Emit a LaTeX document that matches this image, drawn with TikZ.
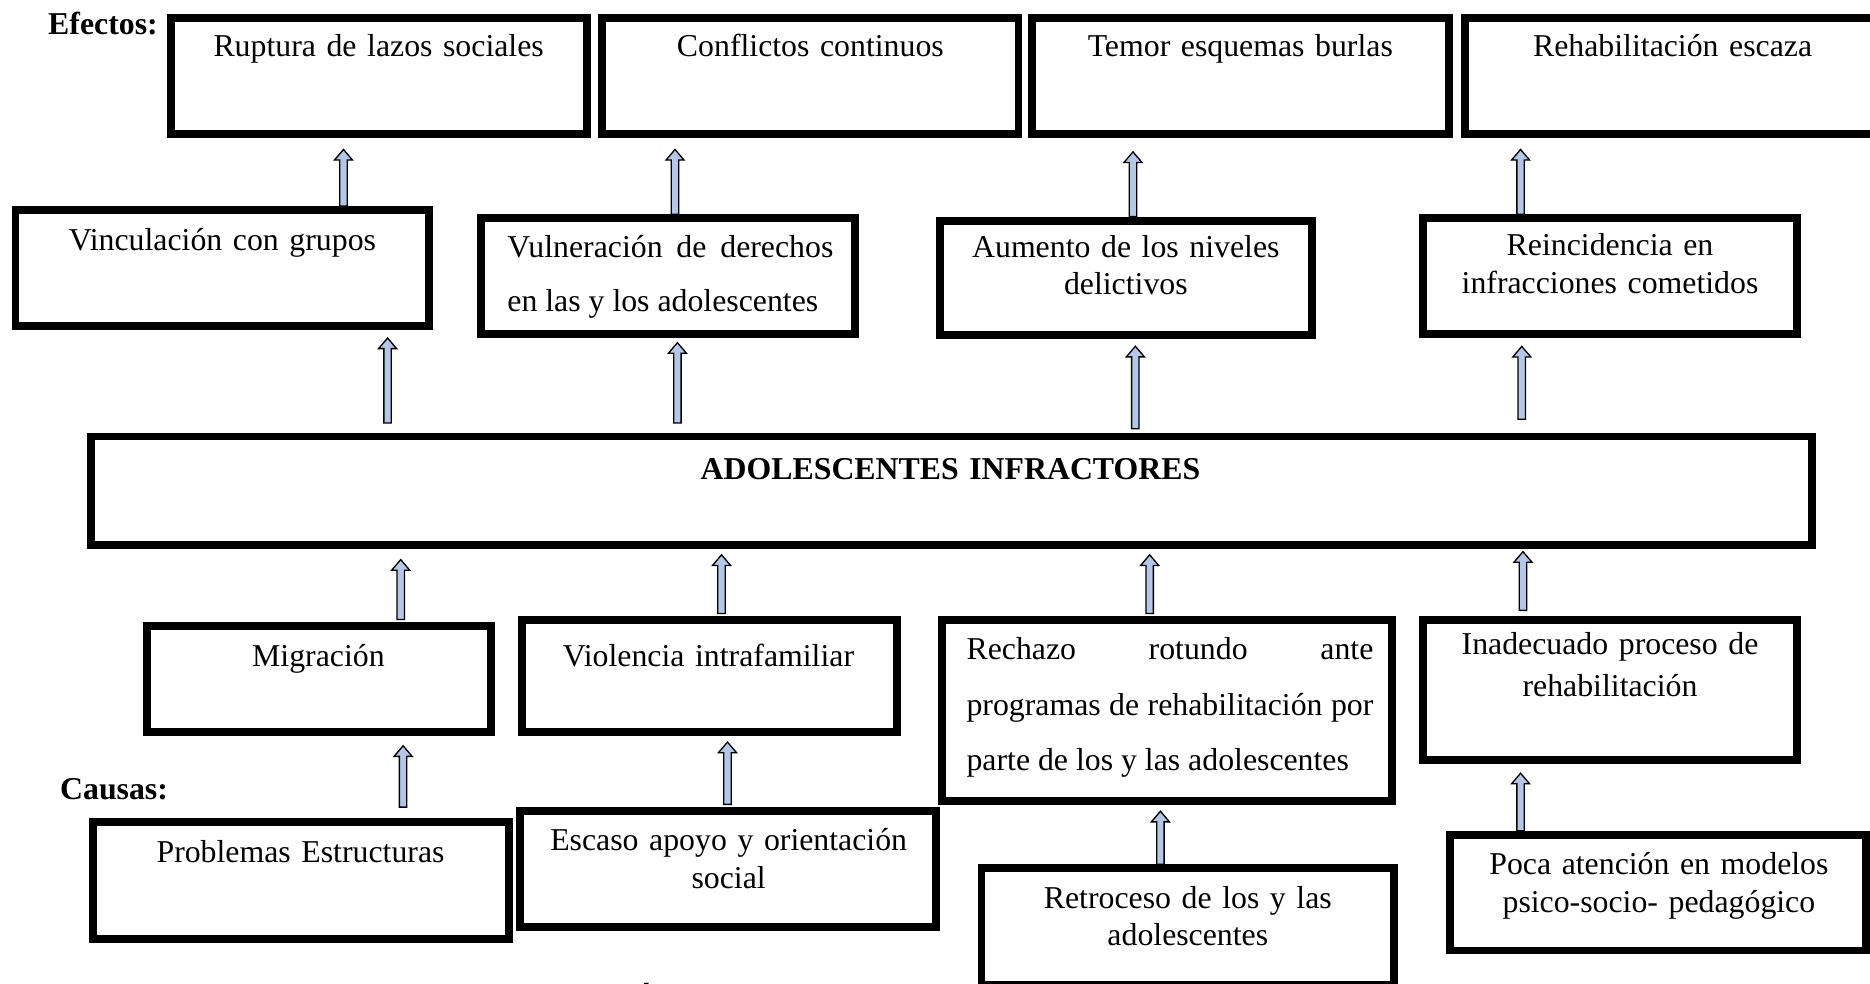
\documentclass[tikz,border=0pt]{standalone}
\usepackage{fontspec}
\setmainfont{Liberation Serif}
\usetikzlibrary{fit, calc}
\definecolor{azul}{RGB}{180,199,231}

% hollow up arrow from one box to the next
\newcommand{\flecha}[5]{%
  \draw[flecha] let \p1=(#1,0), \p2=(#2.north), \p3=(#3.south) in
    (\x1-1.4pt,\y2+#4) -- (\x1-1.4pt,\y3-#5-4pt) -- (\x1-3.4pt,\y3-#5-4pt)
    -- (\x1,\y3-#5) -- (\x1+3.4pt,\y3-#5-4pt) -- (\x1+1.4pt,\y3-#5-4pt)
    -- (\x1+1.4pt,\y2+#4) -- cycle;}

\begin{document}
\begin{tikzpicture}[
                x=0.45pt, y=-0.45pt,
                caja/.style={draw, line width=3pt, inner sep=0pt},
                texto/.style={font=\fontsize{12}{14.4}\selectfont, inner sep=0pt, anchor=base, text width=140pt, align=center},
                titulo/.style={font=\fontsize{12}{14.4}\selectfont\bfseries, inner sep=0pt, anchor=base west},
                flecha/.style={draw=black, line width=0.5pt, fill=azul},
            ]
                \useasboundingbox (0,0) rectangle (1568,825);

                % Draw the effects row
                \foreach \nombre/\xa/\xb/\texto in {ruptura/143/492/Ruptura de lazos sociales, conflictos/505/854/Conflictos continuos, temor/865/1215/Temor esquemas burlas, rehabilitacion/1228/1577/Rehabilitación escaza}
                {
                    \node[caja, fit={(\xa,15) (\xb,112)}] (\nombre) {};
                    \node[texto] (t-\nombre) at ({(\xa+\xb)/2},47) {\texto};
                }

                % Draw the second row of effects
                \node[caja, fit={(13,176) (360,273)}] (vinculacion) {};
                \node[texto] (t-vinculacion) at (186.5,210) {Vinculación con grupos};
                \node[caja, fit={(403,183) (717,280)}] (vulneracion) {};
                \node[texto, text width=123pt, align=justify, font=\fontsize{12}{20.25}\selectfont, anchor=base west] (t-vulneracion) at (425,216) {Vulneración de derechos\linebreak en las y los adolescentes};
                \node[caja, fit={(788,185) (1100,281)}] (aumento) {};
                \node[texto, font=\fontsize{12}{14}\selectfont] (t-aumento) at (944,216) {Aumento de los niveles\\ delictivos};
                \node[caja, fit={(1193,183) (1507,280)}] (reincidencia) {};
                \node[texto] (t-reincidencia) at (1350,214) {Reincidencia en\\ infracciones cometidos};

                % Draw the central problem
                \node[caja, fit={(76,366) (1519,457)}] (adolescentes) {};
                \node[texto, text width=300pt, font=\fontsize{12}{14.4}\selectfont\bfseries] (t-adolescentes) at (797,402) {ADOLESCENTES INFRACTORES};

                % Draw the causes
                \node[caja, fit={(123,525) (412,614)}] (migracion) {};
                \node[texto] (t-migracion) at (267,559) {Migración};
                \node[caja, fit={(438,520) (752,614)}] (violencia) {};
                \node[texto] (t-violencia) at (594,559) {Violencia intrafamiliar};
                \node[caja, fit={(790,520) (1167,672)}] (rechazo) {};
                \node[texto, text width=153.5pt, align=justify, font=\fontsize{12}{21}\selectfont, anchor=base west] (t-rechazo) at (810,553) {Rechazo rotundo ante\linebreak programas de rehabilitación por\linebreak parte de los y las adolescentes};
                \node[caja, fit={(1193,520) (1507,637)}] (inadecuado) {};
                \node[texto, font=\fontsize{12}{15.75}\selectfont] (t-inadecuado) at (1350,549) {Inadecuado proceso de\\ rehabilitación};

                \node[caja, fit={(78,689) (427,787)}] (problemas) {};
                \node[texto] (t-problemas) at (252,723) {Problemas Estructuras};
                \node[caja, fit={(436,680) (785,777)}] (escaso) {};
                \node[texto] (t-escaso) at (611,713) {Escaso apoyo y orientación\\ social};
                \node[caja, fit={(823,728) (1169,826)}] (retroceso) {};
                \node[texto, font=\fontsize{12}{14}\selectfont] (t-retroceso) at (996,762) {Retroceso de los y las\\ adolescentes};
                \node[caja, fit={(1216,700) (1565,797)}] (poca) {};
                \node[texto] (t-poca) at (1391,733) {Poca atención en modelos\\ psico-socio- pedagógico};

                % Titles
                \node[titulo] (efectos) at (40,29) {Efectos:};
                \node[titulo] (causas) at (50,670) {Causas:};
                \node[titulo] (corte) at (530,847) {Á};

                % Connect every box with the box above it
                \foreach \xf/\desde/\hasta/\hbajo/\halto in {
                    288/vinculacion/ruptura/0pt/4.5pt, 566/vulneracion/conflictos/0pt/4.5pt,
                    950/aumento/temor/0pt/5.4pt, 1275/reincidencia/rehabilitacion/0pt/4.5pt,
                    325/adolescentes/vinculacion/3.6pt/3.2pt, 568/adolescentes/vulneracion/3.6pt/1.8pt,
                    952/adolescentes/aumento/1.4pt/2.7pt, 1276/adolescentes/reincidencia/5pt/3.2pt,
                    336/migracion/adolescentes/1pt/4pt, 605/violencia/adolescentes/1pt/2.2pt,
                    964/rechazo/adolescentes/1pt/2.2pt, 1277/inadecuado/adolescentes/2.2pt/1pt,
                    338/problemas/migracion/4pt/3.6pt, 610/escaso/violencia/1pt/2.2pt,
                    973/retroceso/rechazo/0pt/2.2pt, 1275/poca/inadecuado/0pt/3.6pt}
                    \flecha{\xf}{\desde}{\hasta}{\hbajo}{\halto};
            \end{tikzpicture}
\end{document}
